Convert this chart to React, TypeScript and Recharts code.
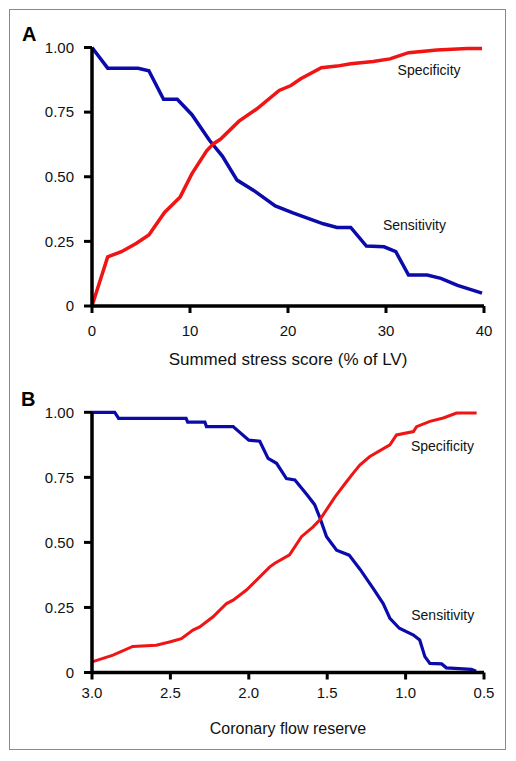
import { LineChart, Line, XAxis, YAxis, ReferenceDot } from 'recharts';

const FONT = '"Liberation Sans", Arial, sans-serif';
const BLUE = '#0b0bab';
const RED = '#f01414';

// Panel A: summed stress score (% of LV)
const stressSensX = [0, 1.6, 4.7, 5.8, 7.3, 8.7, 10.2, 12.0, 13.3, 14.8, 16.5, 18.7, 20.5, 23.6, 25.0, 26.4, 28.0, 29.8, 31.0, 32.3, 34.2, 35.6, 37.3, 39.8];
const stressSensY = [1.0, 0.92, 0.92, 0.91, 0.8, 0.8, 0.74, 0.64, 0.58, 0.487, 0.447, 0.387, 0.36, 0.318, 0.304, 0.304, 0.232, 0.229, 0.21, 0.12, 0.12, 0.107, 0.08, 0.05];
const stressSpecX = [0, 1.6, 3.0, 4.5, 5.8, 7.4, 9.0, 10.2, 11.7, 12.4, 13.1, 15.0, 16.8, 19.1, 20.3, 21.3, 23.4, 25.0, 26.4, 28.7, 30.4, 32.3, 35.2, 38.3, 39.8];
const stressSpecY = [0, 0.19, 0.21, 0.242, 0.275, 0.362, 0.422, 0.512, 0.6, 0.628, 0.645, 0.715, 0.762, 0.834, 0.853, 0.879, 0.922, 0.928, 0.937, 0.946, 0.956, 0.98, 0.99, 0.996, 0.996];
const stressTicks = [0, 10, 20, 30, 40];

// Panel B: coronary flow reserve
const cfrSensX = [3.0, 2.855, 2.83, 2.4, 2.39, 2.28, 2.27, 2.1, 2.0, 1.93, 1.877, 1.823, 1.76, 1.706, 1.63, 1.58, 1.547, 1.504, 1.44, 1.36, 1.29, 1.207, 1.143, 1.1, 1.04, 0.95, 0.91, 0.877, 0.845, 0.77, 0.74, 0.58, 0.55];
const cfrSensY = [1.0, 1.0, 0.977, 0.977, 0.962, 0.962, 0.945, 0.945, 0.893, 0.889, 0.823, 0.804, 0.745, 0.74, 0.684, 0.645, 0.595, 0.522, 0.47, 0.451, 0.396, 0.323, 0.265, 0.208, 0.17, 0.144, 0.125, 0.061, 0.035, 0.033, 0.018, 0.012, 0.005];
const cfrSpecX = [3.0, 2.866, 2.74, 2.59, 2.5, 2.43, 2.356, 2.313, 2.228, 2.142, 2.1, 2.015, 1.866, 1.834, 1.74, 1.664, 1.59, 1.547, 1.45, 1.377, 1.334, 1.292, 1.228, 1.1, 1.058, 0.95, 0.93, 0.845, 0.76, 0.675, 0.547];
const cfrSpecY = [0.041, 0.067, 0.1, 0.105, 0.118, 0.13, 0.163, 0.175, 0.214, 0.265, 0.278, 0.317, 0.406, 0.42, 0.452, 0.522, 0.56, 0.587, 0.675, 0.733, 0.766, 0.797, 0.83, 0.875, 0.913, 0.926, 0.945, 0.965, 0.978, 0.997, 0.997];
const cfrTicks = [0.5, 1.0, 1.5, 2.0, 2.5, 3.0];

const yTicks = [0, 0.25, 0.5, 0.75, 1.0];

// annotation anchors, in data units
const stressSpecLabel = [34.4, 0.911];
const stressSensLabel = [32.9, 0.313];
const cfrSpecLabel = [0.765, 0.871];
const cfrSensLabel = [0.763, 0.221];

const zip = (xs: number[], ys: number[]) => xs.map((x, i) => ({ x, y: ys[i] }));

const tickStyle = { fill: '#111', fontSize: 15, fontFamily: FONT };
const axisLine = { stroke: '#000', strokeWidth: 3.5 };
const tickLine = { stroke: '#000', strokeWidth: 3 };

function yAxis() {
  return (
    <YAxis
      type="number"
      domain={[0, 1]}
      ticks={yTicks}
      width={92}
      tickSize={8}
      tickMargin={10}
      axisLine={axisLine}
      tickLine={tickLine}
      tick={tickStyle}
      tickFormatter={(v: number) => (v === 0 ? '0' : v.toFixed(2))}
    />
  );
}

function note(pos: number[], text: string) {
  return (
    <ReferenceDot
      x={pos[0]}
      y={pos[1]}
      r={0}
      fill="none"
      stroke="none"
      label={{ value: text, position: 'center', fontSize: 14, fill: '#111', fontFamily: FONT }}
    />
  );
}

export default function App() {
  return (
    <div style={{ position: 'absolute', left: 0, top: 0, width: 516, height: 761, background: '#fff', fontFamily: FONT }}>
      <div style={{ position: 'absolute', left: 9, top: 9, width: 497, height: 741, border: '1px solid #8a8a8a', boxSizing: 'border-box' }} />
      <div style={{ position: 'absolute', left: 22, top: 24, fontSize: 20, lineHeight: '20px', fontWeight: 'bold' }}>A</div>
      <div style={{ position: 'absolute', left: 21, top: 389, fontSize: 20, lineHeight: '20px', fontWeight: 'bold' }}>B</div>

      <div style={{ position: 'absolute', left: 0, top: 0 }}>
        <LineChart width={516} height={380} margin={{ top: 47.5, right: 32, bottom: 0, left: 0 }}>
          <XAxis
            type="number"
            dataKey="x"
            domain={[0, 40]}
            ticks={stressTicks}
            height={74}
            tickSize={7}
            tickMargin={12}
            axisLine={axisLine}
            tickLine={tickLine}
            tick={tickStyle}
            label={{ value: 'Summed stress score (% of LV)', position: 'insideBottom', offset: 15, fontSize: 17, fill: '#111', fontFamily: FONT }}
          />
          {yAxis()}
          <Line data={zip(stressSensX, stressSensY)} dataKey="y" type="linear" stroke={BLUE} strokeWidth={3.5} dot={false} isAnimationActive={false} />
          <Line data={zip(stressSpecX, stressSpecY)} dataKey="y" type="linear" stroke={RED} strokeWidth={3.5} dot={false} isAnimationActive={false} />
          {note(stressSpecLabel, 'Specificity')}
          {note(stressSensLabel, 'Sensitivity')}
        </LineChart>
      </div>

      <div style={{ position: 'absolute', left: 0, top: 370 }}>
        <LineChart width={516} height={372.5} margin={{ top: 42.3, right: 32, bottom: 0, left: 0 }}>
          <XAxis
            type="number"
            dataKey="x"
            domain={[0.5, 3.0]}
            reversed
            ticks={cfrTicks}
            height={70}
            tickSize={7}
            tickMargin={8}
            axisLine={axisLine}
            tickLine={tickLine}
            tick={tickStyle}
            tickFormatter={(v: number) => v.toFixed(1)}
            label={{ value: 'Coronary flow reserve', position: 'insideBottom', offset: 8.5, fontSize: 16, fill: '#111', fontFamily: FONT }}
          />
          {yAxis()}
          <Line data={zip(cfrSensX, cfrSensY)} dataKey="y" type="linear" stroke={BLUE} strokeWidth={3.2} dot={false} isAnimationActive={false} />
          <Line data={zip(cfrSpecX, cfrSpecY)} dataKey="y" type="linear" stroke={RED} strokeWidth={3} dot={false} isAnimationActive={false} />
          {note(cfrSpecLabel, 'Specificity')}
          {note(cfrSensLabel, 'Sensitivity')}
        </LineChart>
      </div>
    </div>
  );
}
